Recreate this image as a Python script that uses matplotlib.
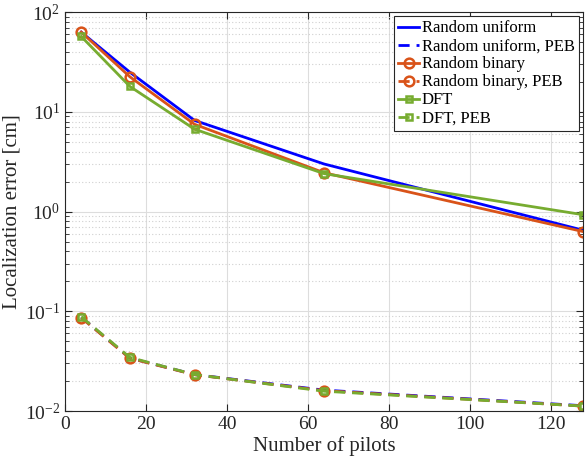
import numpy as np
import matplotlib.pyplot as plt
from matplotlib.ticker import LogLocator, NullFormatter, MultipleLocator

plt.rcParams['font.family'] = ['Liberation Serif', 'DejaVu Serif']
plt.rcParams['mathtext.fontset'] = 'stix'

pilots = [4, 16, 32, 64, 128]

# localization error [cm]
err_uniform = [63, 25, 8.2, 3.0, 0.65]
err_binary = [63, 22.5, 7.5, 2.45, 0.63]
err_dft = [57, 18, 6.7, 2.4, 0.93]

# position error bounds [cm]
peb_uniform = [0.087, 0.034, 0.0232, 0.0162, 0.0113]
peb_binary = [0.086, 0.0338, 0.0231, 0.016, 0.0112]
peb_dft = [0.088, 0.0345, 0.0232, 0.0158, 0.0112]

blue = '#0000ff'
orange = '#d95319'
green = '#77ac30'

fig = plt.figure(figsize=(5.86, 4.66), dpi=100)
ax = fig.add_axes([0.111, 0.118, 0.884, 0.856])

ax.semilogy(pilots, err_uniform, '-', color=blue, lw=2, label='Random uniform')
ax.semilogy(pilots, peb_uniform, '--', color=blue, lw=2, dashes=(4, 2.5),
            label='Random uniform, PEB')
ax.semilogy(pilots, err_binary, '-o', color=orange, lw=2, ms=7, mfc='none',
            mew=1.8, label='Random binary')
ax.semilogy(pilots, peb_binary, '--o', color=orange, lw=2, ms=7, mfc='none',
            mew=1.8, dashes=(4, 2.5), label='Random binary, PEB')
ax.semilogy(pilots, err_dft, '-s', color=green, lw=2, ms=5, mfc='none',
            mew=1.8, label='DFT')
ax.semilogy(pilots, peb_dft, '--s', color=green, lw=2, ms=5, mfc='none',
            mew=1.8, dashes=(4, 2.5), label='DFT, PEB')

ax.set_xlim(0, 128)
ax.set_ylim(1e-2, 1e2)
ax.xaxis.set_major_locator(MultipleLocator(20))
ax.yaxis.set_major_locator(LogLocator(base=10, numticks=10))
ax.yaxis.set_minor_locator(LogLocator(base=10, subs=np.arange(2, 10), numticks=20))
ax.yaxis.set_minor_formatter(NullFormatter())

ax.grid(True, which='major', color='#dddddd', lw=0.8)
ax.grid(True, which='minor', axis='y', color='#d0d0d0', lw=0.8, ls=(0, (1, 2)))
ax.set_axisbelow(True)

ax.tick_params(which='both', direction='in', top=True, right=True,
               labelsize=14, colors='#262626', labelcolor='#262626')
ax.tick_params(which='major', length=5)
ax.tick_params(which='minor', length=3)
for s in ax.spines.values():
    s.set_color('#262626')
    s.set_linewidth(0.8)

ax.set_xlabel('Number of pilots', fontsize=15, color='#262626', labelpad=2)
ax.set_ylabel('Localization error [cm]', fontsize=15, color='#262626', labelpad=2)

leg = ax.legend(loc='upper right', fontsize=12, frameon=True, fancybox=False,
                edgecolor='#262626', framealpha=1, borderpad=0.25,
                labelspacing=0.12, handlelength=1.3, handletextpad=0.15,
                borderaxespad=0.25)
leg.get_frame().set_linewidth(0.8)

fig.savefig('out.png', dpi=100)
